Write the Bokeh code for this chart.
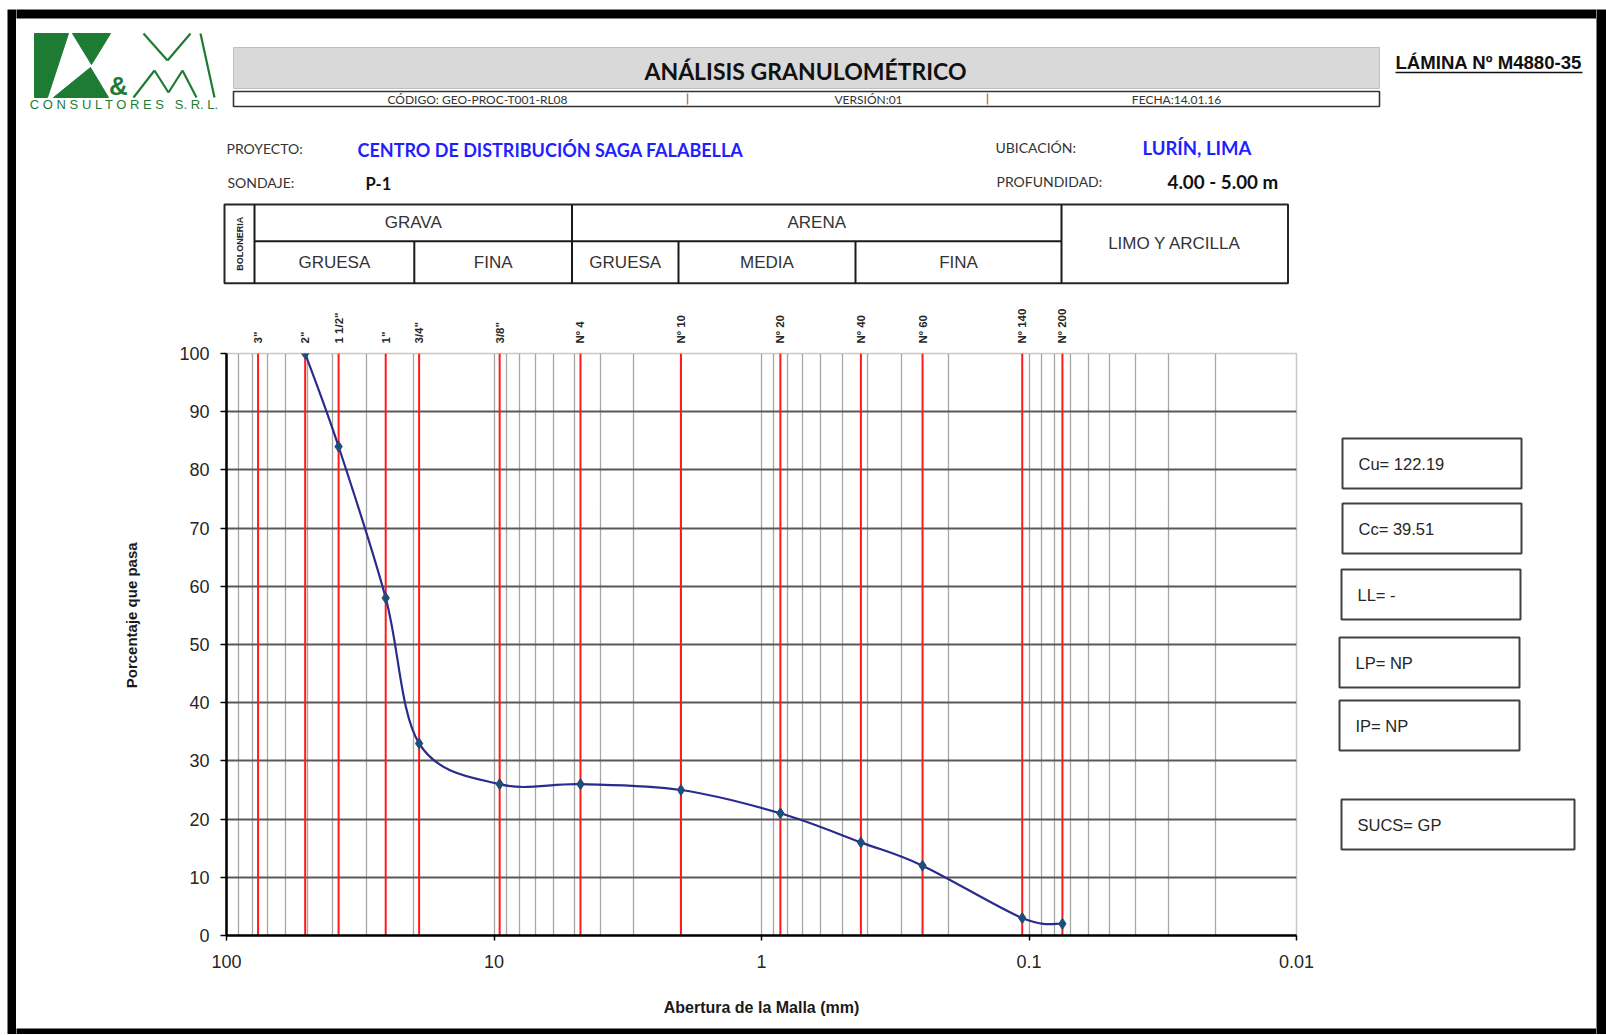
import math
import numpy as np
from bokeh.plotting import figure
from bokeh.layouts import column, row
from bokeh.models import (Range1d, FixedTicker, CustomJSTickFormatter, LogAxis, ColumnDataSource)
from bokeh.core.properties import value
from bokeh.embed import file_html
from bokeh.resources import INLINE

# ---------------- data ----------------
sieve_labels = ['3"', '2"', '1 1/2"', '1"', '3/4"', '3/8"', 'Nº 4', 'Nº 10', 'Nº 20',
                'Nº 40', 'Nº 60', 'Nº 140', 'Nº 200']
sieve_mm = [76.2, 50.8, 38.1, 25.4, 19.05, 9.525, 4.75, 2.0, 0.85, 0.425, 0.25, 0.106, 0.075]
curve_mm = [50.8, 38.1, 25.4, 19.05, 9.525, 4.75, 2.0, 0.85, 0.425, 0.25, 0.106, 0.075]
pct_passing = [100, 84, 58, 33, 26, 26, 25, 21, 16, 12, 3, 2]
x_ticks = [100, 10, 1, 0.1, 0.01]
y_ticks = [0, 10, 20, 30, 40, 50, 60, 70, 80, 90, 100]
class_top = ["GRAVA", "ARENA"]
class_bottom = ["GRUESA", "FINA", "GRUESA", "MEDIA", "FINA"]
stats = ["Cu= 122.19", "Cc= 39.51", "LL= -", "LP= NP", "IP= NP", "SUCS= GP"]

# ---------------- page geometry (page pixel coords) ----------------
W, H = 1606, 1034
HDR_H = 290           # header band height
BOT_H = 9             # bottom border band
MID_H = H - HDR_H - BOT_H
LS_W = 16             # left strip width
RS_X = 1596           # right strip starts here
CH_R = 1330           # chart figure right edge
FL, FR, FT, FB = 226, 1296, 353, 935   # chart frame
BLACK = "#000000"


def deco_fig(x0, x1, y0, y1):
    f = figure(width=int(x1 - x0), height=int(y1 - y0), output_backend="svg",
               toolbar_location=None, x_axis_type=None, y_axis_type=None,
               x_range=Range1d(x0, x1), y_range=Range1d(-y1, -y0), min_border=0,
               frame_align=False)
    f.outline_line_color = None
    f.background_fill_color = "white"
    f.border_fill_color = "white"
    return f


def box(f, l, t, r, b, fill=None, line=None, lw=1.0):
    f.quad(left=[l], right=[r], top=[-t], bottom=[-b],
           fill_color=fill if fill else "white", fill_alpha=1.0 if fill else 0.0,
           line_color=line, line_width=lw)


def seg(f, x0, y0, x1, y1, color="#1a1a1a", lw=2.0):
    f.segment(x0=[x0], y0=[-y0], x1=[x1], y1=[-y1], line_color=color, line_width=lw)


def txt(f, x, y, s, size, color="#262626", font="Lato", style="normal", align="left", angle=0.0):
    f.text(x=[x], y=[-y], text=[s], text_font=value(font), text_font_size=f"{size}px",
           text_font_style=style, text_color=color, text_align=align,
           text_baseline="middle", angle=angle)


def poly(f, pts, color):
    f.patch([q[0] for q in pts], [-q[1] for q in pts], fill_color=color, line_color=color)


# ================= border strips (full height) =================
lstrip = deco_fig(0, LS_W, 0, H)
box(lstrip, 7, 9, LS_W + 5, H + 5, fill=BLACK)
rstrip = deco_fig(RS_X, W, 0, H)
box(rstrip, RS_X - 5, 9, W + 5, H + 5, fill=BLACK)

# ================= header band =================
hdr = deco_fig(LS_W, RS_X, 0, HDR_H)
box(hdr, LS_W - 5, 9, RS_X + 5, 18, fill=BLACK)

# logo
G = "#1e7b34"
poly(hdr, [(34, 33), (68, 33), (47, 97), (34, 97)], G)
poly(hdr, [(72, 33), (110, 33), (91, 64)], G)
poly(hdr, [(53, 97), (108, 97), (90, 67)], G)
txt(hdr, 118, 85, "&", 26, color=G, font="Liberation Sans", style="bold", align="center")
for (a, b) in [((133, 97), (154, 70)), ((154, 70), (168, 92)), ((168, 92), (182, 70)),
               ((182, 70), (196, 97)), ((143, 33), (167, 60)), ((167, 60), (190, 33)),
               ((200, 33), (214, 97))]:
    seg(hdr, a[0], a[1], b[0], b[1], color=G, lw=2.2)
txt(hdr, 124, 104, "C O N S U L T O R E S \u00a0 S. R. L.", 13, color=G,
    font="Liberation Sans", align="center")

# title block
box(hdr, 233, 47, 1379, 88, fill="#d9d9d9", line="#bfbfbf", lw=1)
txt(hdr, 805, 70, "ANÁLISIS GRANULOMÉTRICO", 23, color="#111111", style="bold", align="center")
box(hdr, 233, 91, 1379, 106, fill="white", line="#333333", lw=1.6)
seg(hdr, 687, 93, 687, 104, color="#c0803f", lw=1.5)
seg(hdr, 987, 93, 987, 104, color="#c0803f", lw=1.5)
txt(hdr, 477, 98.5, "CÓDIGO: GEO-PROC-T001-RL08", 12, color="#333333", align="center")
txt(hdr, 868, 98.5, "VERSIÓN:01", 12, color="#333333", align="center")
txt(hdr, 1176, 98.5, "FECHA:14.01.16", 12, color="#333333", align="center")
txt(hdr, 1395, 62, "LÁMINA Nº M4880-35", 18.6, color="#111111", font="Liberation Sans", style="bold")
seg(hdr, 1395, 72, 1582, 72, color="#111111", lw=1.6)

BLUE = "#1f1fff"
txt(hdr, 226, 147.5, "PROYECTO:", 14, color="#333333")
txt(hdr, 357, 149.5, "CENTRO DE DISTRIBUCIÓN SAGA FALABELLA", 18, color=BLUE, style="bold")
txt(hdr, 227, 182, "SONDAJE:", 14, color="#333333")
txt(hdr, 365, 183, "P-1", 16.5, color="#111111", style="bold")
txt(hdr, 995, 146.5, "UBICACIÓN:", 14, color="#333333")
txt(hdr, 1142, 147.5, "LURÍN, LIMA", 18.5, color=BLUE, style="bold")
txt(hdr, 996, 181, "PROFUNDIDAD:", 14, color="#333333")
txt(hdr, 1167, 181, "4.00 - 5.00 m", 18.8, color="#111111", style="bold")

# soil classification table
TL, TR, TT, TM, TB = 224, 1287.5, 204, 240.7, 282.7
box(hdr, TL, TT, TR, TB, line="#262626", lw=2)
for cx in [254, 571.5, 1061]:
    seg(hdr, cx, TT, cx, TB, lw=2)
for cx in [413.8, 678, 855]:
    seg(hdr, cx, TM, cx, TB, lw=2)
seg(hdr, 254, TM, 1061, TM, lw=2)
TCOL = "#333333"
top_edges = [254, 571.5, 1061]
for i, s in enumerate(class_top):
    txt(hdr, (top_edges[i] + top_edges[i + 1]) / 2, (TT + TM) / 2, s, 17, color=TCOL,
        font="Liberation Sans", align="center")
bot_edges = [254, 413.8, 571.5, 678, 855, 1061]
for i, s in enumerate(class_bottom):
    txt(hdr, (bot_edges[i] + bot_edges[i + 1]) / 2, (TM + TB) / 2, s, 17, color=TCOL,
        font="Liberation Sans", align="center")
txt(hdr, (1061 + TR) / 2, (TT + TB) / 2, "LIMO Y ARCILLA", 17, color=TCOL,
    font="Liberation Sans", align="center")
txt(hdr, (TL + 254) / 2, (TT + TB) / 2, "BOLONERIA", 9, font="Liberation Sans", style="bold",
    align="center", angle=math.pi / 2)

# ================= chart =================
p = figure(width=CH_R - LS_W, height=MID_H, output_backend="svg", toolbar_location=None,
           x_axis_type="log", x_range=Range1d(100, 0.01), y_range=Range1d(0, 100),
           min_border_left=FL - LS_W, min_border_right=CH_R - FR,
           min_border_top=FT - HDR_H, min_border_bottom=(HDR_H + MID_H) - FB,
           frame_align=False)
p.background_fill_color = "white"
p.border_fill_color = "white"
p.outline_line_color = "#c8c8c8"
p.outline_line_width = 1.5

grid_vals = [m * 10.0 ** e for e in range(-2, 2) for m in range(1, 10)] + [100]
p.xgrid.ticker = FixedTicker(ticks=grid_vals)
p.xgrid.grid_line_color = "#a6a6a6"
p.xgrid.grid_line_width = 1.3
p.ygrid.ticker = FixedTicker(ticks=y_ticks[1:-1])
p.ygrid.grid_line_color = "#595959"
p.ygrid.grid_line_width = 1.8

p.xaxis.ticker = FixedTicker(ticks=x_ticks, minor_ticks=[])
p.xaxis.formatter = CustomJSTickFormatter(code="return String(tick)")
p.yaxis.ticker = FixedTicker(ticks=y_ticks, minor_ticks=[])
for ax in (p.xaxis, p.yaxis):
    ax.axis_line_color = "black"
    ax.axis_line_width = 2.5
    ax.major_tick_line_color = "black"
    ax.major_tick_line_width = 1.5
    ax.major_tick_in = 0
    ax.minor_tick_out = 0
    ax.minor_tick_in = 0
    ax.major_label_text_font = "Liberation Sans"
    ax.major_label_text_font_size = "18px"
    ax.major_label_text_color = "#262626"
    ax.axis_label_text_font = "Liberation Sans"
    ax.axis_label_text_font_style = "bold"
    ax.axis_label_text_color = "#1a1a1a"
p.xaxis.major_tick_out = 5
p.yaxis.major_tick_out = 6
p.xaxis.major_label_standoff = 14
p.yaxis.major_label_standoff = 11
p.xaxis.axis_label = "Abertura de la Malla (mm)"
# the label sits a little above the frame centre in the original; leading
# no-break spaces move the visible words up along the rotated baseline
p.yaxis.axis_label = "\u00a0" * 14 + "Porcentaje que pasa"
p.xaxis.axis_label_text_font_size = "16px"
p.yaxis.axis_label_text_font_size = "15px"
p.xaxis.axis_label_standoff = 28
p.yaxis.axis_label_standoff = 36

# sieve names on a top axis placed at the sieve openings
top_ax = LogAxis(ticker=FixedTicker(ticks=sieve_mm, minor_ticks=[]),
                 formatter=CustomJSTickFormatter(
                     args=dict(mm=sieve_mm, lab=sieve_labels),
                     code="for (let i = 0; i < mm.length; i++) {"
                          " if (Math.abs(mm[i] - tick) < 1e-9) return lab[i]; } return '';"),
                 major_label_orientation=math.pi / 2, major_label_standoff=10,
                 major_tick_out=0, major_tick_in=0, minor_tick_out=0, minor_tick_in=0,
                 axis_line_color=None, major_tick_line_color=None,
                 major_label_text_font="Liberation Sans", major_label_text_font_style="bold",
                 major_label_text_font_size="11.5px", major_label_text_color="#262626")
p.add_layout(top_ax, "above")

# red sieve lines
p.segment(x0=sieve_mm, y0=0, x1=sieve_mm, y1=100, line_color="#ff1a1a", line_width=2)

# smoothed curve (Catmull-Rom style bezier through the data, in log-x space)
lx = np.log10(np.array(curve_mm, dtype=float))
yy = np.array(pct_passing, dtype=float)
n = len(lx)


def pt(i):
    i = min(max(i, 0), n - 1)
    return lx[i], yy[i]


bz = {k: [] for k in ("x0", "y0", "x1", "y1", "cx0", "cy0", "cx1", "cy1")}
for i in range(n - 1):
    ax_, ay_ = pt(i - 1); bx_, by_ = pt(i); cx_, cy_ = pt(i + 1); dx_, dy_ = pt(i + 2)
    bz["x0"].append(10 ** bx_); bz["y0"].append(by_)
    bz["x1"].append(10 ** cx_); bz["y1"].append(cy_)
    bz["cx0"].append(10 ** (bx_ + (cx_ - ax_) / 6)); bz["cy0"].append(by_ + (cy_ - ay_) / 6)
    bz["cx1"].append(10 ** (cx_ - (dx_ - bx_) / 6)); bz["cy1"].append(cy_ - (dy_ - by_) / 6)
p.bezier(source=ColumnDataSource(bz), x0="x0", y0="y0", x1="x1", y1="y1",
         cx0="cx0", cy0="cy0", cx1="cx1", cy1="cy1", line_color="#2b2b8f", line_width=2.2)
p.scatter(curve_mm, pct_passing, marker="diamond", size=11,
          fill_color="#1f4e79", line_color="#1f4e79")

# ================= side panel with results =================
side = deco_fig(CH_R, RS_X, HDR_H, HDR_H + MID_H)
stat_boxes = [(1342, 438, 1521, 488), (1342, 503, 1521, 553), (1341, 569, 1520, 619),
              (1339, 637, 1519, 687), (1339, 700, 1519, 750), (1341, 799, 1574, 849)]
for s, (l, t, r, b) in zip(stats, stat_boxes):
    box(side, l, t, r, b, line="#404040", lw=2)
    txt(side, l + 16, (t + b) / 2, s, 16.5, font="Liberation Sans", color="#262626")

# ================= bottom border =================
bot = deco_fig(LS_W, RS_X, HDR_H + MID_H, H)
box(bot, LS_W - 5, HDR_H + MID_H - 5, RS_X + 5, H + 5, fill=BLACK)

middle = column(hdr, row(p, side, spacing=0), bot, spacing=0)
layout = row(lstrip, middle, rstrip, spacing=0)
open("out.html", "w").write(file_html(layout, INLINE))
